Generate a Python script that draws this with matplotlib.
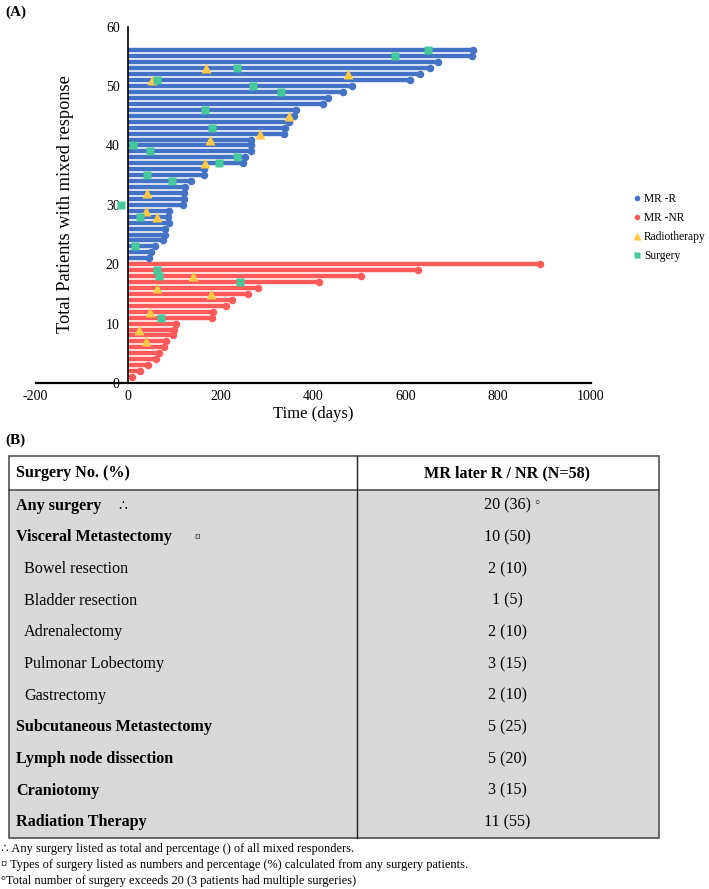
import matplotlib
matplotlib.use('Agg')
import matplotlib.pyplot as plt
from matplotlib.lines import Line2D
from matplotlib.patches import Rectangle

plt.rcParams['font.family'] = ['Liberation Serif', 'DejaVu Serif', 'DejaVu Sans']
plt.rcParams['axes.unicode_minus'] = False

# ---------------- swimmer data ----------------
nr_patients = list(range(1, 21))
nr_durations = [9, 27, 43, 61, 68, 78, 82, 98, 99, 104,
                181, 183, 212, 224, 259, 280, 414, 504, 626, 891]
r_patients = list(range(21, 57))
r_durations = [46, 49, 58, 76, 80, 80, 89, 87, 89, 118,
               120, 120, 124, 137, 164, 165, 249, 252, 265, 265,
               265, 338, 340, 348, 358, 363, 422, 432, 464, 484,
               610, 631, 652, 670, 743, 745]

radio_patients = [18, 16, 15, 12, 9, 7, 28, 29, 32, 37, 41, 42, 45, 51, 52, 53]
radio_days = [141, 62, 179, 48, 24, 38, 63, 39, 40, 167, 177, 285, 349, 51, 475, 169]

surg_patients = [19, 18, 17, 11, 23, 28, 30, 34, 35, 37, 38, 39, 40, 43, 46, 49, 50, 51, 53, 55, 56]
surg_days = [63, 66, 242, 71, 15, 26, -16, 95, 40, 196, 235, 48, 11, 181, 167, 330, 270, 62, 236, 577, 649]

x_ticks = [-200, 0, 200, 400, 600, 800, 1000]
y_ticks = [0, 10, 20, 30, 40, 50, 60]

# ---------------- table data ----------------
header_left = "Surgery No. (%)"
header_right = "MR later R / NR (N=58)"
row_labels = ["Any surgery", "Visceral Metastectomy", "Bowel resection", "Bladder resection",
              "Adrenalectomy", "Pulmonar Lobectomy", "Gastrectomy", "Subcutaneous Metastectomy",
              "Lymph node dissection", "Craniotomy", "Radiation Therapy"]
row_values = ["20 (36)", "10 (50)", "2 (10)", "1 (5)", "2 (10)", "3 (15)", "2 (10)",
              "5 (25)", "5 (20)", "3 (15)", "11 (55)"]
row_bold = [True, True, False, False, False, False, False, True, True, True, True]
footnotes = ["\u2234 Any surgery listed as total and percentage () of all mixed responders.",
             "\u00a4 Types of surgery listed as numbers and percentage (%) calculated from any surgery patients.",
             "\u00b0Total number of surgery exceeds 20 (3 patients had multiple surgeries)"]

BLUE = '#4472C4'
RED = '#FF5A5A'
YELLOW = '#FFC845'
GREEN = '#45C99B'

W, H = 709, 889
fig = plt.figure(figsize=(W / 100, H / 100), dpi=100)

# plot axes in pixel geometry
x0, x1 = 35.5, 590.5
yt, yb = 26.7, 383.0
ax = fig.add_axes([x0 / W, 1 - yb / H, (x1 - x0) / W, (yb - yt) / H])
ax.set_xlim(-200, 1000)
ax.set_ylim(0, 60)

lw = 3.2
for p, d in zip(r_patients, r_durations):
    ax.plot([0, d], [p, p], color=BLUE, lw=lw, solid_capstyle='butt', zorder=2)
ax.plot(r_durations, r_patients, 'o', color=BLUE, ms=4.4, zorder=3, linestyle='none')
for p, d in zip(nr_patients, nr_durations):
    ax.plot([0, d], [p, p], color=RED, lw=lw, solid_capstyle='butt', zorder=2)
ax.plot(nr_durations, nr_patients, 'o', color=RED, ms=4.4, zorder=3, linestyle='none')

ax.plot(radio_days, radio_patients, '^', color=YELLOW, ms=7, mec='none', zorder=4,
        linestyle='none', clip_on=False)
ax.plot(surg_days, surg_patients, 's', color=GREEN, ms=5.6, mec='none', zorder=5,
        linestyle='none', clip_on=False)

for s in ['top', 'right']:
    ax.spines[s].set_visible(False)
ax.spines['left'].set_position(('data', 0))
ax.spines['left'].set_linewidth(1.2)
ax.spines['bottom'].set_linewidth(1.6)
ax.set_xticks(x_ticks)
ax.set_yticks(y_ticks)
ax.tick_params(axis='both', length=0, labelsize=10)
ax.tick_params(axis='y', pad=6)
ax.tick_params(axis='x', pad=5)
ax.set_xlabel("Time (days)", fontsize=12, labelpad=2)
fig.text(65 / W, 1 - 204 / H, "Total Patients with mixed response", rotation=90,
         ha='center', va='center', fontsize=13.2)

handles = [Line2D([], [], marker='o', color=BLUE, ms=3, linestyle='none'),
           Line2D([], [], marker='o', color=RED, ms=3, linestyle='none'),
           Line2D([], [], marker='^', color=YELLOW, ms=6, mec='none', linestyle='none'),
           Line2D([], [], marker='s', color=GREEN, ms=5, mec='none', linestyle='none')]
labels = ["MR -R", "MR -NR", "Radiotherapy", "Surgery"]
ax.legend(handles, labels, loc='upper left', bbox_to_anchor=(634 / W, 1 - 193 / H),
          bbox_transform=fig.transFigure, frameon=False, fontsize=8.3,
          handlelength=0.6, handletextpad=0.25, labelspacing=0.6, borderpad=0, borderaxespad=0)

# overlay axes in pixel coordinates for labels and table
ov = fig.add_axes([0, 0, 1, 1], zorder=-1)
ov.set_xlim(0, W)
ov.set_ylim(H, 0)
ov.axis('off')
ov.patch.set_alpha(0)

fig.text(5 / W, 1 - 12 / H, "(A)", fontsize=11, fontweight='bold', va='center', ha='left')
fig.text(5 / W, 1 - 440 / H, "(B)", fontsize=11, fontweight='bold', va='center', ha='left')

t_left, t_right, t_top, t_head, t_bot, t_mid = 9, 659, 456, 490, 838, 357
ov.add_patch(Rectangle((t_left, t_head), t_right - t_left, t_bot - t_head,
                       facecolor='#D9D9D9', edgecolor='none'))
edge = '#444444'
ov.add_patch(Rectangle((t_left, t_top), t_right - t_left, t_bot - t_top,
                       facecolor='none', edgecolor=edge, lw=1.1))
ov.plot([t_left, t_right], [t_head, t_head], color=edge, lw=1.1)
ov.plot([t_mid, t_mid], [t_top, t_bot], color='#222222', lw=1.0)

fs = 11.6
cx = 507
ov.text(16, 473, header_left, fontsize=fs, fontweight='bold', va='center', ha='left')
ov.text(cx, 473, header_right, fontsize=fs, fontweight='bold', va='center', ha='center')
row_h = (t_bot - t_head) / len(row_labels)
for i, (lab, val, b) in enumerate(zip(row_labels, row_values, row_bold)):
    yc = t_head + row_h * (i + 0.5)
    xl = 16 if b else 24
    ov.text(xl, yc, lab, fontsize=fs, fontweight='bold' if b else 'normal', va='center', ha='left')
    ov.text(cx, yc, val, fontsize=fs, va='center', ha='center')
y0 = t_head + row_h * 0.5
ov.text(118, y0, "\u2234", fontsize=10, va='center', ha='left',
        family=['DejaVu Sans'])
ov.text(537, y0 - 2, "\u25e6", fontsize=9, va='center', ha='center',
        family=['DejaVu Sans'])
ov.text(195, t_head + row_h * 1.5, "\u00a4", fontsize=8, va='center', ha='left')

for j, fn in enumerate(footnotes):
    ov.text(1, 849 + 16 * j, fn, fontsize=8.9, va='center', ha='left')

fig.savefig('out.png', dpi=100)
